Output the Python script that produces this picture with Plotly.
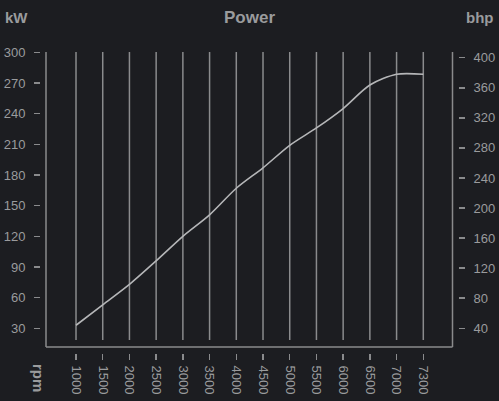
import plotly.graph_objects as go

# ---- data ----
rpm = ["1000", "1500", "2000", "2500", "3000", "3500", "4000",
       "4500", "5000", "5500", "6000", "6500", "7000", "7300"]
power_kw = [33, 53, 73, 96, 120, 141, 167, 187, 209, 226, 245, 268, 278.5, 278.5]
kw_ticks = [30, 60, 90, 120, 150, 180, 210, 240, 270, 300]
bhp_ticks = [40, 80, 120, 160, 200, 240, 280, 320, 360, 400]

BG = "#1c1d21"
GRID = "#8a8b8d"
LINE = "#b5b6b8"
TXT = "#9a9b9d"
FONT = "Liberation Sans, Arial, sans-serif"

W, H = 499, 401
L, R, T, B = 40, 41, 52, 48
pw, ph = W - L - R, H - T - B


def px_x(p):
    return (p - L) / pw


def px_y(p):
    return (H - B - p) / ph


fig = go.Figure()
fig.add_trace(go.Scatter(
    x=rpm, y=power_kw, mode="lines",
    line=dict(color=LINE, width=1.6, shape="spline", smoothing=0.8),
    hoverinfo="skip", showlegend=False,
))
# invisible trace to activate the bhp axis
fig.add_trace(go.Scatter(x=[rpm[0]], y=[bhp_ticks[0]], yaxis="y2", mode="markers",
                         marker=dict(opacity=0), showlegend=False, hoverinfo="skip"))

shapes = []
# vertical grid lines at each rpm category (by category index)
for i, _ in enumerate(rpm):
    shapes.append(dict(type="line", xref="x", yref="paper", x0=i, x1=i,
                       y0=px_y(340), y1=px_y(52), layer="below",
                       line=dict(color=GRID, width=1.5)))
# frame
shapes.append(dict(type="line", xref="paper", yref="paper", x0=px_x(46), x1=px_x(46),
                   y0=px_y(347), y1=px_y(52), line=dict(color=GRID, width=1.5)))
shapes.append(dict(type="line", xref="paper", yref="paper", x0=px_x(452.5), x1=px_x(452.5),
                   y0=px_y(347), y1=px_y(52), line=dict(color=GRID, width=1.5)))
shapes.append(dict(type="line", xref="paper", yref="paper", x0=px_x(46), x1=px_x(452.5),
                   y0=px_y(347), y1=px_y(347), line=dict(color=GRID, width=1.5)))

tickfont = dict(family=FONT, size=13, color=TXT)
fig.update_layout(
    width=W, height=H,
    margin=dict(l=L, r=R, t=T, b=B, autoexpand=False),
    paper_bgcolor=BG, plot_bgcolor=BG,
    showlegend=False,
    hovermode=False,
    shapes=shapes,
    xaxis=dict(
        type="category", categoryorder="array", categoryarray=rpm,
        range=[-1.348, 14.299], anchor="free", position=0, automargin=False,
        showgrid=False, zeroline=False, showline=False,
        ticks="outside", ticklen=6, tickwidth=1.5, tickcolor=GRID,
        tickangle=90, tickfont=tickfont, ticklabelstandoff=3,
    ),
    yaxis=dict(
        range=[5.84, 300.3], anchor="free", position=0, side="left", automargin=False,
        tickvals=kw_ticks, showgrid=False, zeroline=False, showline=False,
        ticks="outside", ticklen=6, tickwidth=1.5, tickcolor=GRID,
        tickfont=tickfont, ticklabelstandoff=6,
    ),
    yaxis2=dict(
        range=[7.14, 407.6], anchor="free", position=1, side="right", automargin=False,
        overlaying="y", tickvals=bhp_ticks, showgrid=False, zeroline=False, showline=False,
        ticks="outside", ticklen=6, tickwidth=1.5, tickcolor=GRID,
        tickfont=tickfont, ticklabelstandoff=6,
    ),
    annotations=[
        dict(text="<b>Power</b>", xref="paper", yref="paper", x=px_x(249), y=px_y(17),
             showarrow=False, font=dict(family=FONT, size=17, color=TXT),
             xanchor="center", yanchor="middle"),
        dict(text="<b>kW</b>", xref="paper", yref="paper", x=px_x(3), y=px_y(17),
             showarrow=False, font=dict(family=FONT, size=15, color=TXT),
             xanchor="left", yanchor="middle"),
        dict(text="<b>bhp</b>", xref="paper", yref="paper", x=px_x(496), y=px_y(17),
             showarrow=False, font=dict(family=FONT, size=15, color=TXT),
             xanchor="right", yanchor="middle"),
        dict(text="<b>rpm</b>", xref="paper", yref="paper", x=px_x(39), y=px_y(378),
             showarrow=False, font=dict(family=FONT, size=15, color=TXT),
             textangle=90, xanchor="center", yanchor="middle"),
    ],
)

fig.write_html(
    "out.html",
    config={"displayModeBar": False, "staticPlot": True},
    post_script="document.body.style.margin='0';document.body.style.background='%s';" % BG,
)
